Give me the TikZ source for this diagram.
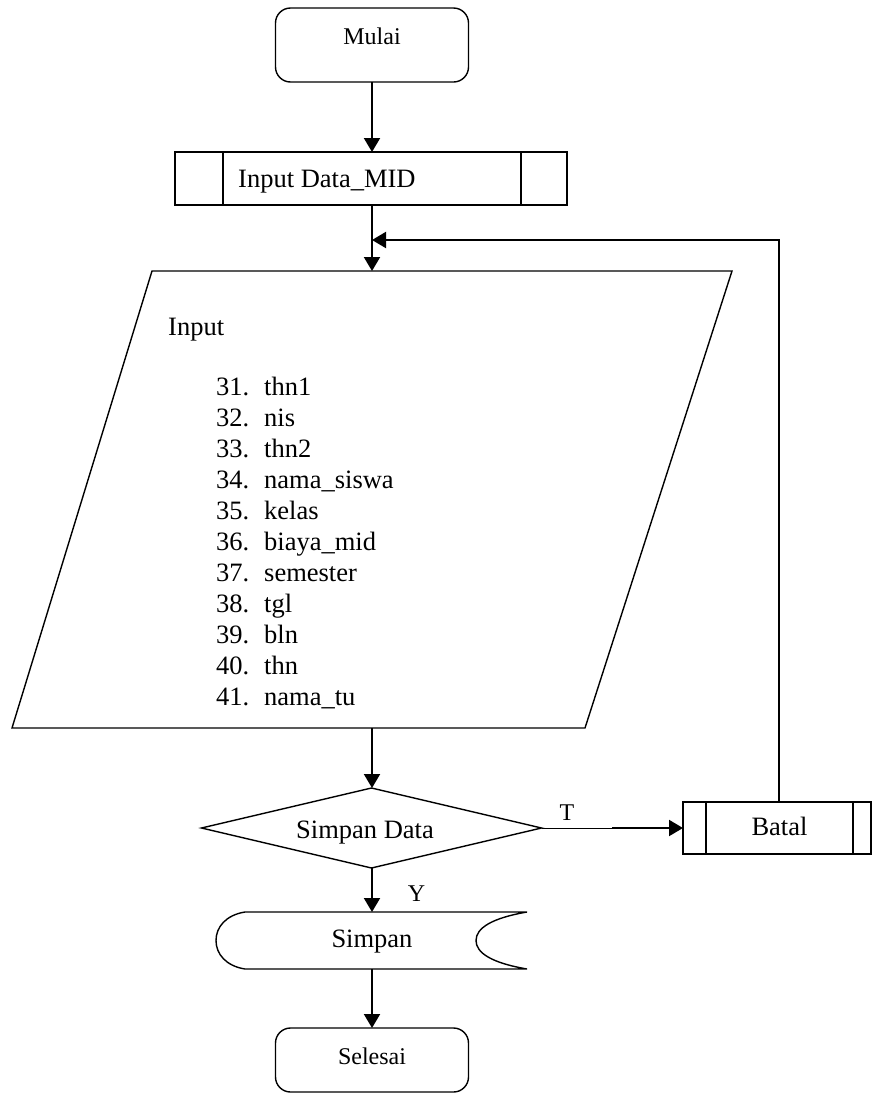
\documentclass[tikz,border=0pt]{standalone}
\usepackage{fontspec}
\setmainfont{Liberation Serif}
\usetikzlibrary{arrows.meta,calc}
\begin{document}
\begin{tikzpicture}[x=1pt,y=-1pt,
  shp/.style={line width=1.4pt},
  conn/.style={line width=2pt,-{Triangle[length=14pt,width=16pt]}},
  bigtxt/.style={font=\fontsize{26.5}{31}\selectfont, inner sep=0},
  smalltxt/.style={font=\fontsize{24}{28}\selectfont, inner sep=0},
  box/.style={draw=none, inner sep=0, outer sep=0},
  termbox/.style={draw, shp, rounded corners=15pt, inner sep=0, outer sep=0},
  subbox/.style={draw, shp, inner sep=0, outer sep=0}]
\useasboundingbox (0,0) rectangle (872,1093);

% Mulai
\node[termbox, minimum width=193pt, minimum height=74pt] (start) at (372,45) {};
\node[smalltxt, anchor=base] (startlbl) at (372,44) {Mulai};

% Input Data_MID
\node[subbox, minimum width=392pt, minimum height=53pt] (sub) at (371,178.5) {};
\draw[shp] (223,152) -- (223,205) (521,152) -- (521,205);
\node[bigtxt, anchor=base west] (sublbl) at (238,187) {Input Data\_MID};

% Parallelogram input
\node[box, minimum width=720pt, minimum height=457pt] (inp) at (372,499.5) {};
\draw[shp] ($(inp.north west)+(140,0)$) -- (inp.north east) -- ($(inp.south east)+(-147,0)$) -- (inp.south west) -- cycle;
\node[bigtxt, anchor=base west] (inplbl) at (168,335) {Input};
\foreach \n/\w [count=\i from 0] in {31/thn1, 32/nis, 33/thn2, 34/nama\_siswa, 35/kelas, 36/biaya\_mid, 37/semester, 38/tgl, 39/bln, 40/thn, 41/nama\_tu} {
  \node[bigtxt, anchor=base west] (num\n) at (216, 395+31*\i) {\n.};
  \node[bigtxt, anchor=base west] (item\n) at (264, 395+31*\i) {\w};
}

% Decision
\node[box, minimum width=340pt, minimum height=80pt] (dec) at (371.5,828) {};
\draw[shp] (dec.north) -- (dec.east) -- (dec.south) -- (dec.west) -- cycle;
\node[bigtxt, anchor=base] (declbl) at (365,838) {Simpan Data};

% Batal
\node[subbox, minimum width=188pt, minimum height=52pt] (bat) at (777,828) {};
\draw[shp] (706,802) -- (706,854) (853,802) -- (853,854);
\node[bigtxt, anchor=base] (batlbl) at (779.5,835) {Batal};

% Simpan (stored data)
\node[box, minimum width=311pt, minimum height=57pt] (sto) at (371.5,940.5) {};
\draw[shp] (245,912) -- (527,912) .. controls (492,918) and (476,928) .. (476,940.5)
  .. controls (476,953) and (492,963) .. (527,969) -- (245,969)
  .. controls (226,966) and (216,954) .. (216,940.5)
  .. controls (216,927) and (226,915) .. (245,912) -- cycle;
\node[bigtxt, anchor=base] (stolbl) at (372,947) {Simpan};

% Selesai
\node[termbox, minimum width=193pt, minimum height=64pt] (end) at (372,1060) {};
\node[smalltxt, anchor=base] (endlbl) at (372,1064) {Selesai};

% labels
\node[smalltxt, anchor=base] (tlbl) at (567,820) {T};
\node[smalltxt, anchor=base] (ylbl) at (416.5,901) {Y};

% connectors
\coordinate (join) at (372,240);
\coordinate (fbtop) at (779,240);
\coordinate (tmid) at (612,828);
\draw[conn] (start.south) -- (start.south |- sub.north);
\draw[line width=2pt] (start.south |- sub.south) -- (join);
\draw[conn] (join) -- (join |- inp.north);
\draw[conn] (bat.north -| fbtop) -- (fbtop) -- (join);
\draw[conn] (join |- inp.south) -- (join |- dec.north);
\draw[line width=1pt] (dec.east) -- (tmid);
\draw[conn] (tmid) -- (bat.west);
\draw[conn] (join |- dec.south) -- (join |- sto.north);
\draw[conn] (join |- sto.south) -- (end.north);
\end{tikzpicture}
\end{document}
